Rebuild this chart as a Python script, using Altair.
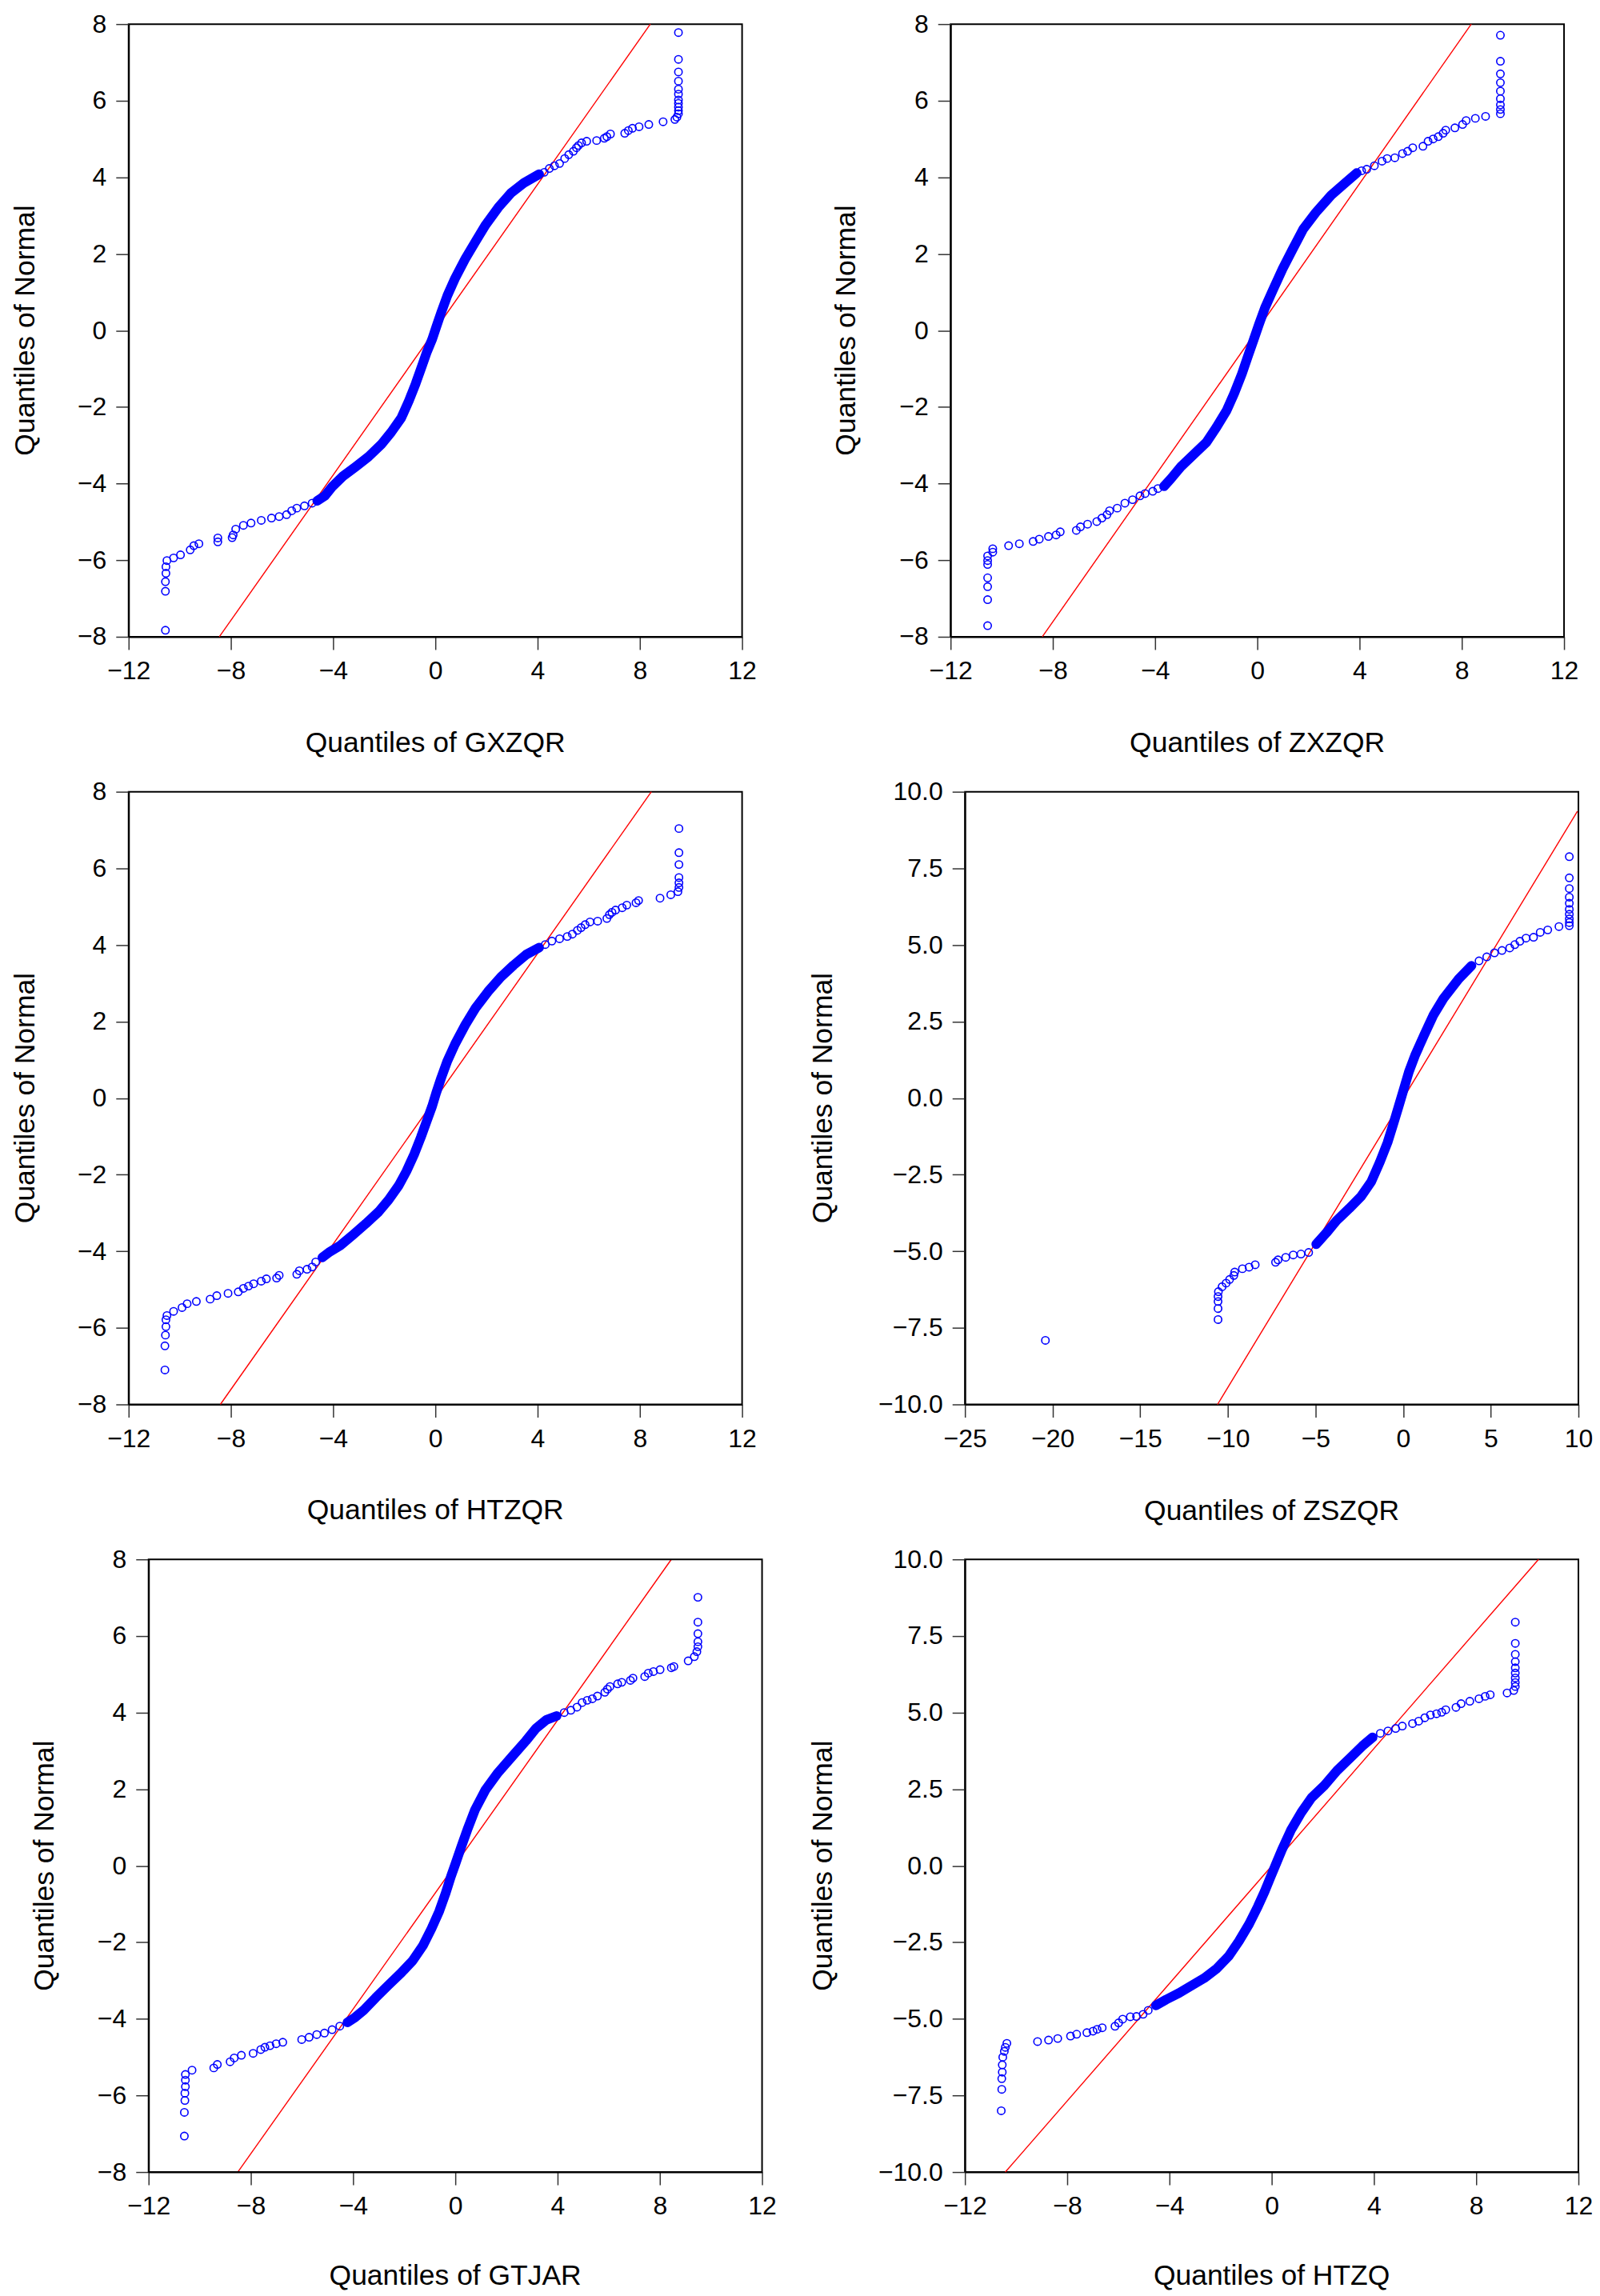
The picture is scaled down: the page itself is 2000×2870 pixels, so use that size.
import altair as alt
import pandas as pd

# ---------------- data ----------------
# Panel 1: GXZQR
p1_px = [9.51, 9.51, 9.51, 9.51, 9.51, 9.51, 9.51, 9.51, 9.51, 9.51, 9.51, 9.45, 9.37, 8.91, 8.35, 7.97, 7.71, 7.55, 7.41, 6.85, 6.71, 6.61, 6.31, 5.92, 5.72, 5.60, 5.52, 5.40, 5.22, 5.06, 4.86, 4.66, 4.46, 4.26,
         -4.82, -5.12, -5.42, -5.62, -5.82, -6.11, -6.41, -6.81, -7.21, -7.51, -7.81, -7.91, -7.95, -8.51, -8.51, -9.25, -9.45, -9.59, -9.97, -10.24, -10.50, -10.54, -10.54, -10.56, -10.56, -10.56]
p1_py = [7.78, 7.08, 6.75, 6.51, 6.30, 6.17, 6.02, 5.93, 5.83, 5.74, 5.66, 5.57, 5.51, 5.45, 5.38, 5.32, 5.28, 5.22, 5.15, 5.13, 5.06, 5.02, 4.96, 4.94, 4.90, 4.83, 4.77, 4.68, 4.59, 4.49, 4.36, 4.30, 4.23, 4.13,
         -4.51, -4.58, -4.64, -4.71, -4.81, -4.86, -4.90, -4.96, -5.03, -5.09, -5.19, -5.34, -5.41, -5.42, -5.52, -5.57, -5.62, -5.73, -5.86, -5.94, -6.01, -6.17, -6.34, -6.56, -6.81, -7.83]
p1_cx = [4.06, 3.46, 2.96, 2.46, 1.97, 1.57, 1.17, 0.77, 0.47, 0.23, 0.03, -0.13, -0.33, -0.53, -0.77, -1.03, -1.33, -1.73, -2.12, -2.62, -3.12, -3.62, -4.02, -4.32, -4.62]
p1_cy = [4.08, 3.85, 3.59, 3.21, 2.76, 2.32, 1.87, 1.36, 0.91, 0.47, 0.08, -0.24, -0.56, -0.94, -1.39, -1.83, -2.28, -2.66, -2.98, -3.30, -3.56, -3.81, -4.07, -4.32, -4.45]
p1_lx = [-8.45, 8.41]
p1_ly = [-8.0, 8.0]

# Panel 2: ZXZQR
p2_px = [9.51, 9.51, 9.51, 9.51, 9.51, 9.51, 9.51, 9.51, 9.51, 8.93, 8.53, 8.17, 8.03, 7.73, 7.37, 7.27, 7.08, 6.88, 6.68, 6.48, 6.08, 5.88, 5.68, 5.38, 5.08, 4.88, 4.58, 4.28, 4.08,
         -3.89, -4.09, -4.39, -4.59, -4.88, -5.18, -5.48, -5.78, -5.88, -6.08, -6.28, -6.64, -6.92, -7.08, -7.71, -7.87, -8.17, -8.53, -8.77, -9.31, -9.73, -10.35, -10.35, -10.55, -10.55, -10.55, -10.55, -10.55, -10.55, -10.55]
p2_py = [7.71, 7.03, 6.70, 6.47, 6.25, 6.05, 5.89, 5.77, 5.66, 5.59, 5.54, 5.48, 5.38, 5.29, 5.23, 5.15, 5.06, 5.00, 4.94, 4.81, 4.77, 4.68, 4.62, 4.51, 4.49, 4.42, 4.30, 4.21, 4.17,
         -4.13, -4.20, -4.26, -4.32, -4.42, -4.51, -4.64, -4.71, -4.81, -4.90, -4.99, -5.06, -5.13, -5.22, -5.26, -5.34, -5.38, -5.45, -5.51, -5.57, -5.62, -5.70, -5.79, -5.89, -6.01, -6.11, -6.46, -6.69, -7.03, -7.71]
p2_cx = [3.89, 3.49, 2.89, 2.29, 1.79, 1.39, 0.99, 0.60, 0.30, 0.06, -0.14, -0.34, -0.60, -0.90, -1.20, -1.60, -1.99, -2.49, -2.99, -3.39, -3.65]
p2_cy = [4.11, 3.88, 3.53, 3.08, 2.64, 2.13, 1.61, 1.04, 0.59, 0.15, -0.24, -0.62, -1.13, -1.64, -2.09, -2.53, -2.92, -3.24, -3.56, -3.88, -4.07]
p2_lx = [-8.41, 8.37]
p2_ly = [-8.0, 8.0]

# Panel 3: HTZQR
p3_px = [9.53, 9.53, 9.53, 9.53, 9.53, 9.53, 9.49, 9.21, 8.79, 7.95, 7.85, 7.49, 7.31, 7.05, 6.91, 6.81, 6.71, 6.35, 6.05, 5.86, 5.70, 5.56, 5.36, 5.16, 4.86, 4.56, 4.30,
         -4.68, -4.82, -5.02, -5.32, -5.42, -6.11, -6.21, -6.61, -6.81, -7.11, -7.31, -7.51, -7.71, -8.11, -8.55, -8.81, -9.35, -9.71, -9.91, -10.24, -10.50, -10.54, -10.54, -10.56, -10.58, -10.58]
p3_py = [7.04, 6.41, 6.10, 5.76, 5.62, 5.50, 5.39, 5.31, 5.22, 5.16, 5.10, 5.04, 4.97, 4.91, 4.85, 4.79, 4.69, 4.62, 4.60, 4.53, 4.45, 4.38, 4.28, 4.22, 4.16, 4.10, 4.01,
         -4.28, -4.41, -4.47, -4.51, -4.60, -4.63, -4.70, -4.72, -4.78, -4.85, -4.91, -4.97, -5.06, -5.10, -5.16, -5.25, -5.31, -5.37, -5.47, -5.57, -5.68, -5.79, -5.97, -6.19, -6.47, -7.10]
p3_cx = [4.06, 3.56, 3.06, 2.56, 2.06, 1.57, 1.17, 0.77, 0.47, 0.23, 0.03, -0.13, -0.33, -0.57, -0.83, -1.13, -1.43, -1.83, -2.22, -2.72, -3.22, -3.72, -4.12, -4.42]
p3_cy = [3.93, 3.75, 3.47, 3.16, 2.78, 2.35, 1.91, 1.41, 0.97, 0.53, 0.13, -0.22, -0.59, -1.03, -1.47, -1.91, -2.28, -2.66, -2.97, -3.28, -3.57, -3.85, -4.01, -4.16]
p3_lx = [-8.41, 8.45]
p3_ly = [-8.0, 8.0]

# Panel 4: ZSZQR
p4_px = [9.48, 9.48, 9.48, 9.48, 9.48, 9.48, 9.48, 9.48, 9.48, 9.48, 8.89, 8.25, 7.82, 7.44, 7.01, 6.66, 6.37, 6.08, 5.64, 5.21, 4.77, 4.33,
         -5.39, -5.83, -6.27, -6.70, -7.14, -7.28, -8.44, -8.79, -9.17, -9.61, -9.66, -9.90, -10.10, -10.33, -10.54, -10.56, -10.56, -10.56, -10.56, -20.41]
p4_py = [7.88, 7.19, 6.84, 6.56, 6.36, 6.16, 6.00, 5.85, 5.73, 5.63, 5.60, 5.49, 5.41, 5.25, 5.22, 5.12, 5.01, 4.90, 4.82, 4.74, 4.61, 4.48,
         -5.04, -5.09, -5.12, -5.20, -5.28, -5.36, -5.44, -5.52, -5.57, -5.68, -5.79, -5.92, -6.04, -6.16, -6.32, -6.48, -6.64, -6.87, -7.23, -7.91]
p4_cx = [3.90, 3.17, 2.30, 1.72, 1.20, 0.70, 0.33, 0.04, -0.25, -0.54, -0.89, -1.33, -1.82, -2.40, -3.07, -3.80, -4.38, -4.96]
p4_cy = [4.32, 3.89, 3.25, 2.70, 2.06, 1.42, 0.86, 0.30, -0.26, -0.81, -1.45, -2.09, -2.73, -3.21, -3.60, -4.00, -4.40, -4.77]
p4_lx = [-10.59, 9.94]
p4_ly = [-10.0, 9.36]

# Panel 5: GTJAR
p5_px = [9.49, 9.49, 9.49, 9.49, 9.49, 9.45, 9.35, 9.11, 8.55, 8.45, 8.01, 7.75, 7.55, 7.41, 6.95, 6.85, 6.51, 6.35, 6.05, 5.95, 5.85, 5.56, 5.36, 5.16, 4.96, 4.76, 4.52, 4.26,
         -4.52, -4.82, -5.12, -5.42, -5.72, -6.01, -6.75, -7.01, -7.25, -7.45, -7.61, -7.91, -8.37, -8.65, -8.81, -9.31, -9.45, -10.30, -10.56, -10.56, -10.56, -10.58, -10.58, -10.60, -10.60]
p5_py = [7.01, 6.36, 6.06, 5.85, 5.72, 5.59, 5.46, 5.35, 5.20, 5.17, 5.12, 5.07, 5.03, 4.94, 4.90, 4.84, 4.79, 4.75, 4.68, 4.61, 4.53, 4.43, 4.36, 4.32, 4.26, 4.14, 4.06, 4.00,
         -4.19, -4.28, -4.37, -4.41, -4.48, -4.54, -4.61, -4.65, -4.70, -4.74, -4.80, -4.90, -4.95, -5.02, -5.12, -5.19, -5.28, -5.34, -5.45, -5.60, -5.77, -5.94, -6.13, -6.44, -7.06]
p5_cx = [3.96, 3.56, 3.16, 2.76, 2.26, 1.67, 1.17, 0.77, 0.47, 0.23, 0.01, -0.17, -0.39, -0.63, -0.93, -1.27, -1.67, -2.12, -2.62, -3.12, -3.58, -3.92, -4.22]
p5_cy = [3.91, 3.81, 3.59, 3.26, 2.88, 2.43, 1.97, 1.46, 0.94, 0.49, 0.06, -0.28, -0.74, -1.19, -1.64, -2.09, -2.48, -2.80, -3.12, -3.45, -3.77, -3.96, -4.09]
p5_lx = [-8.51, 8.45]
p5_ly = [-8.0, 8.0]

# Panel 6: HTZQ
p6_px = [9.53, 9.53, 9.53, 9.53, 9.53, 9.53, 9.53, 9.53, 9.53, 9.47, 9.21, 8.55, 8.35, 8.11, 7.75, 7.41, 7.21, 6.81, 6.65, 6.45, 6.21, 5.99, 5.75, 5.51, 5.11, 4.85, 4.55, 4.25,
         -4.83, -5.03, -5.29, -5.53, -5.83, -5.99, -6.13, -6.63, -6.83, -6.99, -7.23, -7.63, -7.87, -8.37, -8.73, -9.16, -10.36, -10.42, -10.46, -10.52, -10.54, -10.54, -10.56, -10.56, -10.58]
p6_py = [7.95, 7.26, 6.90, 6.66, 6.46, 6.29, 6.13, 5.98, 5.85, 5.72, 5.64, 5.58, 5.53, 5.45, 5.37, 5.29, 5.17, 5.09, 5.01, 4.96, 4.92, 4.83, 4.72, 4.64, 4.56, 4.48, 4.40, 4.32,
         -4.72, -4.85, -4.92, -4.93, -5.01, -5.13, -5.24, -5.29, -5.34, -5.40, -5.45, -5.50, -5.56, -5.64, -5.69, -5.74, -5.80, -5.93, -6.06, -6.25, -6.50, -6.74, -6.95, -7.30, -8.00]
p6_cx = [3.95, 3.55, 3.06, 2.56, 2.06, 1.56, 1.16, 0.76, 0.40, 0.16, -0.04, -0.28, -0.54, -0.88, -1.28, -1.68, -2.14, -2.64, -3.13, -3.63, -4.13, -4.53]
p6_cy = [4.19, 3.91, 3.51, 3.11, 2.62, 2.22, 1.74, 1.17, 0.52, 0.04, -0.36, -0.85, -1.33, -1.90, -2.46, -2.95, -3.35, -3.67, -3.91, -4.16, -4.37, -4.56]
p6_lx = [-10.42, 10.44]
p6_ly = [-10.0, 10.0]

names = ["GXZQR", "ZXZQR", "HTZQR", "ZSZQR", "GTJAR", "HTZQ"]
y_title = "Quantiles of Normal"
x_ticks_a = [-12, -8, -4, 0, 4, 8, 12]
x_ticks_b = [-25, -20, -15, -10, -5, 0, 5, 10]
y_ticks_a = [-8, -6, -4, -2, 0, 2, 4, 6, 8]
y_ticks_b = [-10.0, -7.5, -5.0, -2.5, 0.0, 2.5, 5.0, 7.5, 10.0]

FONT = "Liberation Sans"
BLUE = "#0000FF"
RED = "#FF0000"
W = 768
H = 767
ONE = pd.DataFrame({"k": [0]})


def panel(name, px, py, cx, cy, lx, ly, xdom, xticks, ydom, yticks, yfmt,
          ytx, xty, box, shift=0):
    pts = pd.DataFrame({"x": px, "y": py})
    cur = pd.DataFrame({"x": cx, "y": cy, "i": list(range(len(cx)))})
    ref = pd.DataFrame({"x": lx, "y": ly, "i": [0, 1]})
    if shift:
        xs = alt.Scale(domain=xdom, nice=False, zero=False, range=[shift, W + shift])
        yax = alt.Axis(values=yticks, format=yfmt, title="", offset=-shift)
    else:
        xs = alt.Scale(domain=xdom, nice=False, zero=False)
        yax = alt.Axis(values=yticks, format=yfmt, title="")
    ys = alt.Scale(domain=ydom, nice=False, zero=False)
    xax = alt.Axis(values=xticks, format="d", title="")
    red = alt.Chart(ref).mark_line(color=RED, strokeWidth=1.4).encode(
        x=alt.X("x:Q", scale=xs, axis=xax),
        y=alt.Y("y:Q", scale=ys, axis=yax),
        order="i:Q")
    band = alt.Chart(cur).mark_line(color=BLUE, strokeWidth=12, strokeCap="round",
                                    strokeJoin="round").encode(
        x=alt.X("x:Q", scale=xs), y=alt.Y("y:Q", scale=ys), order="i:Q")
    dots = alt.Chart(pts).mark_point(shape="circle", filled=False, color=BLUE,
                                     size=88, strokeWidth=1.6, opacity=1).encode(
        x=alt.X("x:Q", scale=xs), y=alt.Y("y:Q", scale=ys))
    ytitle = alt.Chart(ONE).mark_text(
        angle=270, align="center", baseline="middle", font=FONT, fontSize=35.5,
        color="#000000").encode(
        x=alt.value(ytx + shift), y=alt.value(H / 2), text=alt.value(y_title))
    xtitle = alt.Chart(ONE).mark_text(
        align="center", baseline="middle", font=FONT, fontSize=35.5,
        color="#000000").encode(
        x=alt.value(W / 2 + shift), y=alt.value(H + xty),
        text=alt.value("Quantiles of " + name))
    # invisible layout guide that fixes the panel's extent inside the grid
    L, R, T, B = box
    guide = alt.Chart(ONE).mark_rule(
        opacity=0, strokeOpacity=0, strokeWidth=1, color="#FFFFFF").encode(
        x=alt.value(L), x2=alt.value(R), y=alt.value(T), y2=alt.value(B))
    layers = [guide, red, band, dots, ytitle, xtitle]
    if shift:
        frame = alt.Chart(ONE).mark_rect(
            fillOpacity=0, stroke="#000000", strokeWidth=2).encode(
            x=alt.value(shift), x2=alt.value(W + shift), y=alt.value(0), y2=alt.value(H))
        layers.append(frame)
        return alt.layer(*layers).properties(
            width=W + shift, height=H,
            view=alt.ViewBackground(stroke="transparent"))
    return alt.layer(*layers).properties(width=W, height=H)


c1 = panel(names[0], p1_px, p1_py, p1_cx, p1_cy, p1_lx, p1_ly, [-12, 12], x_ticks_a, [-8, 8], y_ticks_a, "d",
           -129, 133, (-152, 825, -19, 940))
c2 = panel(names[1], p2_px, p2_py, p2_cx, p2_cy, p2_lx, p2_ly, [-12, 12], x_ticks_a, [-8, 8], y_ticks_a, "d",
           -130, 133, (-182, W, -19, 940))
c3 = panel(names[2], p3_px, p3_py, p3_cx, p3_cy, p3_lx, p3_ly, [-12, 12], x_ticks_a, [-8, 8], y_ticks_a, "d",
           -129, 133, (-152, 825, -19, 940))
c4 = panel(names[3], p4_px, p4_py, p4_cx, p4_cy, p4_lx, p4_ly, [-25, 10], x_ticks_b, [-10, 10], y_ticks_b, ".1f",
           -177, 134, (-200, W, -19, 940))
c5 = panel(names[4], p5_px, p5_py, p5_cx, p5_cy, p5_lx, p5_ly, [-12, 12], x_ticks_a, [-8, 8], y_ticks_a, "d",
           -130, 130, (-152, 825, -19, H), shift=25)
c6 = panel(names[5], p6_px, p6_py, p6_cx, p6_cy, p6_lx, p6_ly, [-12, 12], x_ticks_a, [-10, 10], y_ticks_b, ".1f",
           -177, 130, (-200, W, -19, H))

chart = alt.concat(c1, c2, c3, c4, c5, c6, columns=2, align="none",
                   spacing={"row": 0, "column": 20}).properties(
    padding=0,
    background="#FFFFFF",
).configure_view(stroke="#000000", strokeWidth=2).configure_axis(
    grid=False,
    labelFont=FONT, labelFontSize=32, labelColor="#000000", labelPadding=12,
    labelFlush=False, labelOverlap=False, labelBound=False,
    tickSize=16, tickWidth=1.5, tickColor="#333333",
    domainColor="#000000", domainWidth=2,
)

chart.save("out.html", embed_options={"renderer": "svg", "actions": False})
